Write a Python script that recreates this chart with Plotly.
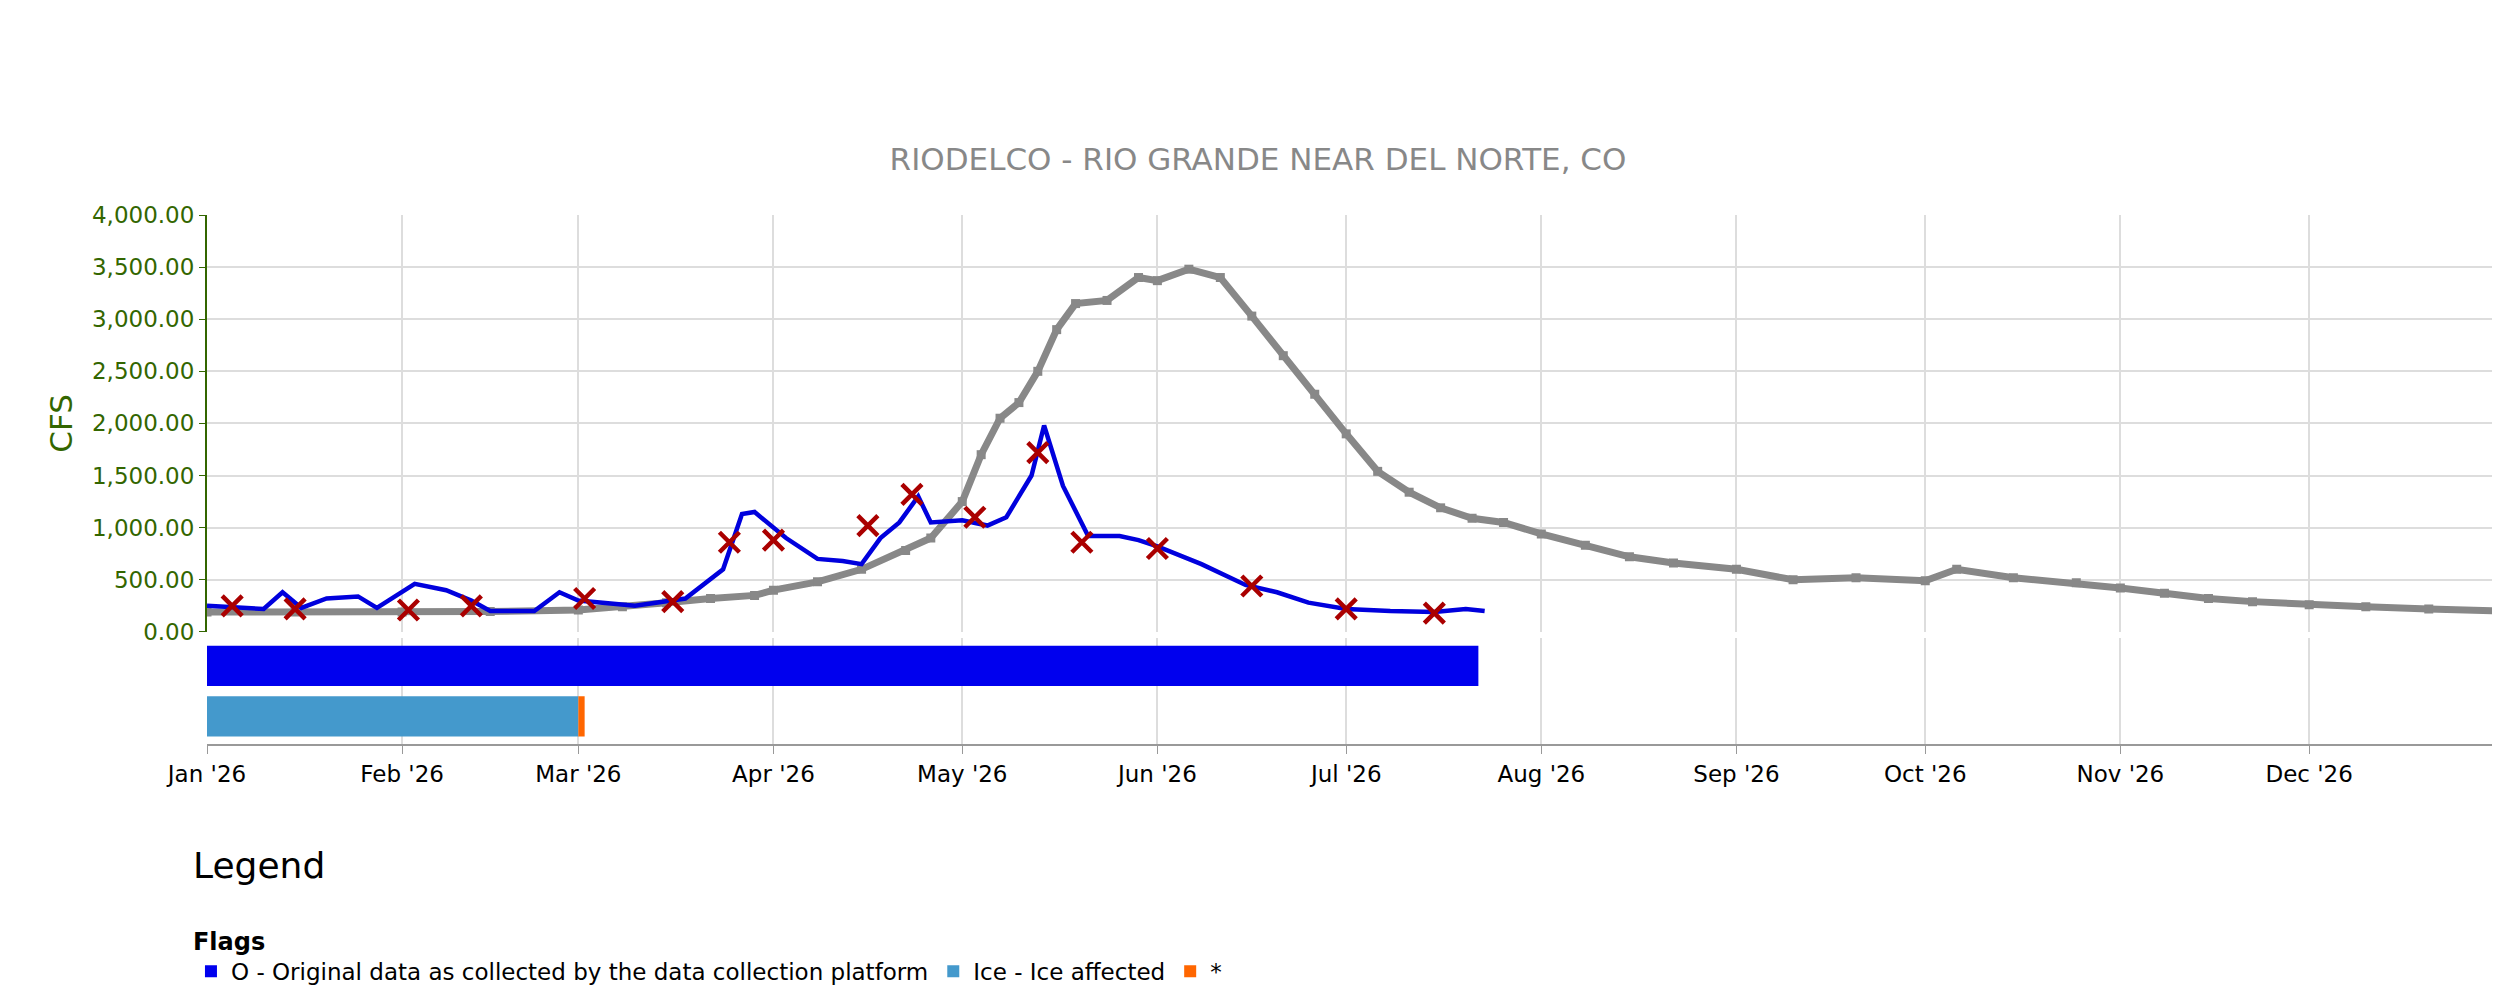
import datetime as dt
import plotly.graph_objects as go

# median / typical flow (gray)
gray_dates = ['2026-01-01', '2026-01-15', '2026-02-01', '2026-02-15', '2026-03-01', '2026-03-08',
              '2026-03-15', '2026-03-22', '2026-03-29', '2026-04-01', '2026-04-08', '2026-04-15',
              '2026-04-22', '2026-04-26', '2026-05-01', '2026-05-04', '2026-05-07', '2026-05-10',
              '2026-05-13', '2026-05-16', '2026-05-19', '2026-05-24', '2026-05-29', '2026-06-01',
              '2026-06-06', '2026-06-11', '2026-06-16', '2026-06-21', '2026-06-26', '2026-07-01',
              '2026-07-06', '2026-07-11', '2026-07-16', '2026-07-21', '2026-07-26', '2026-08-01',
              '2026-08-08', '2026-08-15', '2026-08-22', '2026-09-01', '2026-09-10', '2026-09-20',
              '2026-10-01', '2026-10-06', '2026-10-15', '2026-10-25', '2026-11-01', '2026-11-08',
              '2026-11-15', '2026-11-22', '2026-12-01', '2026-12-10', '2026-12-20', '2026-12-31']
gray_vals = [190, 190, 190, 195, 210, 240, 280, 320, 350, 400, 480, 600,
             780, 900, 1250, 1700, 2050, 2200, 2500, 2900, 3150, 3180, 3400, 3370,
             3480, 3400, 3030, 2650, 2280, 1900, 1540, 1340, 1190, 1090, 1050, 940,
             830, 720, 660, 600, 500, 520, 490, 600, 520, 470, 420, 370,
             320, 290, 260, 240, 220, 200]

# current year flow (blue)
blue_dates = ['2026-01-01', '2026-01-05', '2026-01-10', '2026-01-13', '2026-01-16', '2026-01-20',
              '2026-01-25', '2026-01-28', '2026-02-03', '2026-02-08', '2026-02-12', '2026-02-15',
              '2026-02-22', '2026-02-26', '2026-03-01', '2026-03-10', '2026-03-18', '2026-03-24',
              '2026-03-27', '2026-03-29', '2026-04-03', '2026-04-08', '2026-04-12', '2026-04-15',
              '2026-04-18', '2026-04-21', '2026-04-24', '2026-04-26', '2026-05-01', '2026-05-05',
              '2026-05-08', '2026-05-12', '2026-05-14', '2026-05-17', '2026-05-21', '2026-05-26',
              '2026-05-29', '2026-06-01', '2026-06-08', '2026-06-15', '2026-06-20', '2026-06-25',
              '2026-07-01', '2026-07-08', '2026-07-15', '2026-07-20', '2026-07-23']
blue_vals = [250, 240, 220, 380, 230, 320, 340, 230, 460, 400, 300, 200,
             200, 380, 300, 250, 320, 600, 1130, 1150, 900, 700, 680, 650,
             900, 1050, 1300, 1050, 1070, 1020, 1100, 1500, 1980, 1400, 920, 920,
             880, 820, 650, 450, 380, 280, 220, 200, 190, 220, 200]

# field measurements (red x)
meas_dates = ['2026-01-05', '2026-01-15', '2026-02-02', '2026-02-12', '2026-03-02', '2026-03-16',
              '2026-03-25', '2026-04-01', '2026-04-16', '2026-04-23', '2026-05-03', '2026-05-13',
              '2026-05-20', '2026-06-01', '2026-06-16', '2026-07-01', '2026-07-15']
meas_vals = [250, 220, 210, 250, 320, 290, 860, 880, 1020, 1320, 1100, 1720,
             860, 800, 440, 220, 180]

# flag periods
flag_names = ['O - Original data as collected by the data collection platform', 'Ice - Ice affected', '*']
flag_start = ['2026-01-01', '2026-01-01', '2026-03-01']
flag_end = ['2026-07-22', '2026-03-01', '2026-03-02']
flag_row = [1, 0, 0]
flag_colors = ['#0000ee', '#4499cc', '#ff6600']

fig = go.Figure()
fig.add_trace(go.Scatter(x=gray_dates, y=gray_vals, mode='lines+markers', showlegend=False,
                         line=dict(color='#888888', width=7),
                         marker=dict(symbol='square', size=9, color='#888888')))
fig.add_trace(go.Scatter(x=blue_dates, y=blue_vals, mode='lines', showlegend=False,
                         line=dict(color='#0000dd', width=4.5)))
fig.add_trace(go.Scatter(x=meas_dates, y=meas_vals, mode='markers', showlegend=False,
                         marker=dict(symbol='x-thin', size=20, color='#aa0000',
                                     line=dict(width=4.5, color='#aa0000'))))

ms_day = 86400000
for name, s, e, r, c in zip(flag_names, flag_start, flag_end, flag_row, flag_colors):
    d0 = dt.date.fromisoformat(s)
    d1 = dt.date.fromisoformat(e)
    fig.add_trace(go.Bar(y=[r], x=[(d1 - d0).days * ms_day], base=[s], orientation='h',
                         name=name, marker=dict(color=c, line=dict(width=0)),
                         width=0.8, xaxis='x2', yaxis='y2'))

tick_vals = ['2026-%02d-01' % m for m in range(1, 13)]
fig.update_layout(
    width=2500, height=996,
    paper_bgcolor='white', plot_bgcolor='white',
    font=dict(family='DejaVu Sans', color='black'),
    margin=dict(l=199, r=10, t=207, b=247),
    title=dict(text='RIODELCO - RIO GRANDE NEAR DEL NORTE, CO', x=0.5, xanchor='center',
               y=1 - 151 / 996, yanchor='middle', font=dict(size=31, color='#888888')),
    xaxis=dict(type='date', range=['2026-01-01', '2026-12-31'], anchor='y',
               tickvals=tick_vals, showticklabels=False, showgrid=True,
               gridcolor='#dddddd', gridwidth=2, zeroline=False),
    xaxis2=dict(type='date', range=['2026-01-01', '2026-12-31'], anchor='y2', matches='x',
                tickvals=tick_vals, tickformat="%b '%y", showgrid=True,
                gridcolor='#dddddd', gridwidth=2, showline=True, linecolor='#999999',
                linewidth=2, ticks='outside', ticklen=8, tickcolor='#999999',
                tickfont=dict(size=23, color='black'), automargin=False),
    yaxis=dict(domain=[0.212, 1], range=[0, 4000], dtick=500, tickformat=',.2f',
               showgrid=True, gridcolor='#dddddd', gridwidth=2, zeroline=False,
               showline=True, linecolor='#336600', linewidth=2, ticks='outside',
               ticklen=6, tickcolor='#336600', automargin=False,
               tickfont=dict(size=23, color='#336600'),
               title=dict(text='CFS', font=dict(size=31, color='#336600'), standoff=10)),
    yaxis2=dict(domain=[0, 0.2], range=[-0.55, 1.55], showticklabels=False,
                showgrid=False, zeroline=False, automargin=False),
    barmode='overlay',
    legend=dict(orientation='h', x=-0.007, xanchor='left', y=-0.33, yanchor='top',
                title=dict(text='<b>Flags</b>', side='top', font=dict(size=24)),
                font=dict(size=23), traceorder='normal', itemsizing='constant'),
    annotations=[dict(text='Legend', xref='paper', yref='paper', x=-0.007, y=-0.23,
                      xanchor='left', yanchor='middle', showarrow=False,
                      font=dict(size=36, color='black'))],
)

fig.write_html("out.html")
